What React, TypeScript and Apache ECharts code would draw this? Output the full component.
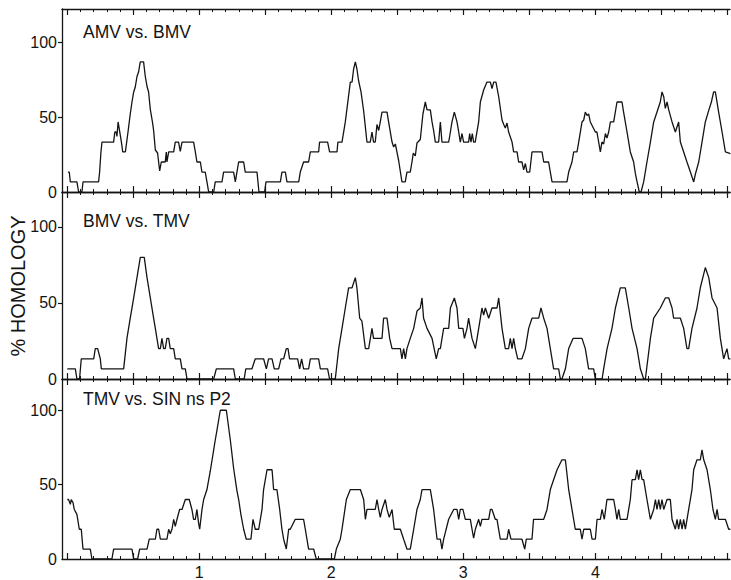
import { useEffect, useRef } from "react";
import * as echarts from "echarts";

const panelTitles = ["AMV vs. BMV", "BMV vs. TMV", "TMV vs. SIN ns P2"];
const yAxisName = "% HOMOLOGY";
const xLabelValues = [1, 2, 3, 4];
const xMajorTicks = [0, 0.5, 1, 1.5, 2, 2.5, 3, 3.5, 4, 4.5, 5];
const xMinorTicks = [
  0.1, 0.2, 0.3, 0.4, 0.6, 0.7, 0.8, 0.9, 1.1, 1.2, 1.3, 1.4, 1.6, 1.7, 1.8, 1.9,
  2.1, 2.2, 2.3, 2.4, 2.6, 2.7, 2.8, 2.9, 3.1, 3.2, 3.3, 3.4, 3.6, 3.7, 3.8, 3.9,
  4.1, 4.2, 4.3, 4.4, 4.6, 4.7, 4.8, 4.9,
];
const yLabelValues = [0, 50, 100];
const yTickValues = [50, 100];

const amvBmv: [number, number][] = [
  [0.005,13.3],[0.015,13.3],[0.023,6.7],[0.073,6.7],[0.086,0],[0.111,0],[0.119,6.7],[0.237,6.7],[0.245,13.3],[0.255,26.7],[0.263,33.3],[0.351,33.3],[0.36,40],[0.37,40],[0.376,37],[0.385,46.7],[0.39,46.7],[0.41,33.3],[0.42,26.7],[0.44,26.7],[0.46,40],[0.477,52],[0.49,60],[0.503,66.7],[0.515,70],[0.528,77],[0.54,80],[0.553,86.7],[0.578,86.7],[0.591,77],[0.605,70],[0.616,66.7],[0.629,55],[0.645,46.7],[0.654,41],[0.667,28],[0.684,26],[0.7,14],[0.712,20],[0.742,20],[0.75,26.7],[0.755,20],[0.768,26.7],[0.806,26.7],[0.818,33.3],[0.843,33.3],[0.856,27],[0.869,33.3],[0.957,33.3],[0.97,26.7],[0.982,20],[1.008,20],[1.02,13.3],[1.045,13.3],[1.058,6.7],[1.071,0],[1.109,0],[1.121,6.7],[1.172,6.7],[1.184,13.3],[1.26,13.3],[1.273,6.7],[1.285,13.3],[1.298,20],[1.336,20],[1.348,13.3],[1.437,13.3],[1.452,0],[1.495,0],[1.505,6.7],[1.614,6.7],[1.626,13.3],[1.652,13.3],[1.664,6.7],[1.753,6.7],[1.765,13.3],[1.79,20],[1.828,20],[1.841,26.7],[1.904,26.7],[1.911,33.3],[1.972,33.3],[1.987,26.7],[2.043,26.7],[2.05,33.3],[2.081,33.3],[2.106,46.7],[2.144,73.3],[2.157,73.3],[2.169,82],[2.182,86.7],[2.194,82],[2.207,74],[2.225,66.7],[2.245,54],[2.27,33.3],[2.295,33.3],[2.308,40],[2.32,33.3],[2.333,33.3],[2.346,45],[2.359,41],[2.371,46.7],[2.384,53.3],[2.422,53.3],[2.434,46.7],[2.46,33.3],[2.472,30],[2.485,32],[2.497,26.7],[2.51,21],[2.535,6.7],[2.56,6.7],[2.573,13.3],[2.598,13.3],[2.611,20],[2.621,26],[2.636,24],[2.649,32.7],[2.674,35],[2.694,52],[2.712,60],[2.725,54.7],[2.75,54.7],[2.763,46.7],[2.775,41],[2.788,33.3],[2.813,33.3],[2.826,46.7],[2.838,33.3],[2.889,33.3],[2.902,40],[2.914,46.7],[2.932,53.3],[2.952,46.7],[2.965,40],[2.977,33.3],[2.99,39],[3.002,33.3],[3.04,33.3],[3.048,39],[3.058,33.3],[3.068,39],[3.078,33.3],[3.09,33.3],[3.116,46.7],[3.129,60],[3.154,68],[3.179,73.3],[3.205,73.3],[3.217,69],[3.23,73.3],[3.247,73.3],[3.268,63.5],[3.293,48],[3.306,45],[3.318,42.7],[3.331,46],[3.343,40],[3.369,33.3],[3.381,26.7],[3.407,26.7],[3.419,20],[3.444,20],[3.457,14.7],[3.47,19],[3.482,13.3],[3.503,13.3],[3.52,26.7],[3.596,26.7],[3.609,20],[3.646,20],[3.659,13.3],[3.672,6.7],[3.785,6.7],[3.798,13.3],[3.823,20],[3.836,26.7],[3.861,26.7],[3.874,33.3],[3.899,46.7],[3.912,48],[3.924,53.3],[3.937,51],[3.949,52],[3.962,46.7],[4.0,40],[4.012,40],[4.038,26.7],[4.05,33.3],[4.063,32],[4.076,39],[4.088,36],[4.101,40],[4.114,46.7],[4.139,46.7],[4.164,60],[4.202,60],[4.214,53.3],[4.24,40],[4.265,26.7],[4.29,20],[4.303,12.4],[4.316,6.7],[4.333,0],[4.346,0],[4.366,6.7],[4.391,20],[4.417,33.3],[4.442,46.7],[4.467,53.3],[4.492,60],[4.505,66.7],[4.518,63.5],[4.53,55.8],[4.543,60],[4.556,54.7],[4.581,46.7],[4.606,40],[4.631,46.7],[4.644,33.3],[4.669,26.7],[4.694,20],[4.72,13.3],[4.745,6.7],[4.758,12],[4.783,20],[4.808,33.3],[4.833,46.7],[4.859,54.4],[4.879,60],[4.896,66.7],[4.909,66.7],[4.934,53.3],[4.96,40],[4.985,26.7],[5.023,25.6],
];

const bmvTmv: [number, number][] = [
  [0.0,6.7],[0.061,6.7],[0.073,0],[0.093,0],[0.106,13.3],[0.2,13.3],[0.212,20],[0.23,20],[0.25,13.3],[0.258,6.7],[0.427,6.7],[0.452,26.7],[0.477,40],[0.503,53.3],[0.528,66.7],[0.553,80],[0.583,80],[0.604,66.7],[0.629,53.3],[0.654,40],[0.667,33.3],[0.679,26.7],[0.692,20],[0.705,20],[0.717,26.7],[0.73,20],[0.742,20],[0.755,26.7],[0.768,26.7],[0.78,20],[0.806,20],[0.818,13.3],[0.856,13.3],[0.869,6.7],[0.894,6.7],[0.907,0],[1.109,0],[1.129,6.7],[1.26,6.7],[1.273,0],[1.34,0],[1.352,6.7],[1.399,6.7],[1.424,13.3],[1.487,13.3],[1.508,6.7],[1.525,13.3],[1.551,13.3],[1.568,6.7],[1.601,6.7],[1.619,13.3],[1.639,13.3],[1.659,20],[1.672,20],[1.684,13.3],[1.745,13.3],[1.76,6.7],[1.775,13.3],[1.79,6.7],[1.828,6.7],[1.841,13.3],[1.904,13.3],[1.917,6.7],[1.972,6.7],[1.987,0],[2.03,0],[2.056,20],[2.081,33.3],[2.106,46.7],[2.131,60],[2.157,60],[2.182,66.7],[2.194,60],[2.215,40],[2.232,38],[2.258,20],[2.283,20],[2.308,33.3],[2.32,26.7],[2.384,26.7],[2.396,40],[2.422,40],[2.442,26.7],[2.46,20],[2.523,20],[2.535,13.3],[2.548,20],[2.561,13.3],[2.573,20],[2.598,26.7],[2.624,33.3],[2.649,44.7],[2.674,46.7],[2.687,53.3],[2.699,40],[2.725,33.3],[2.763,26.7],[2.795,13.3],[2.813,20],[2.826,20],[2.851,33.3],[2.889,33.3],[2.902,46.7],[2.932,53.3],[2.952,46.7],[2.965,33.3],[2.997,33.3],[3.008,26.7],[3.028,33.3],[3.04,40],[3.053,33.3],[3.066,26.7],[3.091,20],[3.104,26.7],[3.129,40],[3.141,46.7],[3.154,42],[3.167,46.7],[3.192,40],[3.217,46.7],[3.255,46.7],[3.268,53.3],[3.293,33.3],[3.318,20],[3.343,20],[3.356,26.7],[3.369,20],[3.381,26.7],[3.394,20],[3.412,13.3],[3.444,13.3],[3.47,20],[3.495,33.3],[3.52,40],[3.571,40],[3.588,46.7],[3.609,40],[3.634,33.3],[3.659,20],[3.684,6.7],[3.722,6.7],[3.735,0],[3.747,0],[3.773,6.7],[3.798,20],[3.831,26.7],[3.899,26.7],[3.924,20],[3.949,6.7],[3.987,6.7],[4.0,0],[4.051,0],[4.063,6.7],[4.089,20],[4.126,33.3],[4.152,46.7],[4.189,60],[4.227,60],[4.253,46.7],[4.278,33.3],[4.316,20],[4.341,6.7],[4.366,0],[4.379,0],[4.417,26.7],[4.442,40],[4.492,46.7],[4.53,53.3],[4.556,53.3],[4.581,46.7],[4.593,40],[4.644,40],[4.669,33.3],[4.694,20],[4.707,20],[4.732,33.3],[4.77,46.7],[4.795,60],[4.833,73.3],[4.859,66.7],[4.884,53.3],[4.922,46.7],[4.947,26.7],[4.972,13.3],[4.997,20],[5.01,13.3],[5.023,13.3],
];

const tmvSin: [number, number][] = [
  [0.0,40],[0.01,40],[0.023,36.7],[0.03,40],[0.043,38],[0.053,33.3],[0.073,30],[0.091,20],[0.106,20],[0.119,6.7],[0.174,6.7],[0.187,0],[0.338,0],[0.351,6.7],[0.49,6.7],[0.503,0],[0.533,0],[0.548,6.7],[0.604,6.7],[0.621,13.3],[0.667,13.3],[0.679,20],[0.692,20],[0.705,13.3],[0.755,13.3],[0.768,20],[0.78,17],[0.793,20],[0.806,26.7],[0.818,22],[0.831,26.7],[0.851,33.3],[0.869,33.3],[0.894,40],[0.924,40],[0.944,33.3],[0.957,26.7],[0.97,26.7],[0.982,33.3],[0.995,24],[1.003,20],[1.02,33],[1.033,40],[1.058,46.7],[1.083,59],[1.109,73.3],[1.121,80],[1.134,86.7],[1.159,100],[1.205,100],[1.235,80],[1.26,61],[1.285,46],[1.3,39],[1.315,30],[1.336,20],[1.356,13.3],[1.391,13.3],[1.407,26.7],[1.424,20],[1.45,20],[1.475,33.3],[1.487,46.7],[1.513,60],[1.551,60],[1.563,46.7],[1.588,46.7],[1.609,33.3],[1.626,20],[1.639,13.3],[1.659,6.7],[1.677,20],[1.689,20],[1.727,26.7],[1.79,26.7],[1.803,20],[1.828,6.7],[1.866,6.7],[1.886,0],[2.023,0],[2.038,6.7],[2.068,13.3],[2.081,20],[2.114,40],[2.144,46.7],[2.22,46.7],[2.245,40],[2.258,26.7],[2.27,33.3],[2.333,33.3],[2.346,40],[2.359,33.3],[2.371,28],[2.384,33.3],[2.409,40],[2.422,33.3],[2.439,28],[2.46,33.3],[2.477,20],[2.523,20],[2.548,13.3],[2.573,6.7],[2.598,6.7],[2.624,20],[2.649,33.3],[2.674,40],[2.687,46.7],[2.75,46.7],[2.775,33.3],[2.801,13.3],[2.826,13.3],[2.838,6.7],[2.851,13.3],[2.889,26.7],[2.927,33.3],[2.952,33.3],[2.965,26.7],[2.977,33.3],[2.997,33.3],[3.015,26.7],[3.053,26.7],[3.066,20],[3.078,14],[3.091,20],[3.116,26.7],[3.129,22],[3.141,26.7],[3.192,26.7],[3.205,33.3],[3.217,33.3],[3.242,26.7],[3.255,26.7],[3.28,13.3],[3.331,13.3],[3.343,20],[3.361,13.3],[3.444,13.3],[3.465,6.7],[3.477,13.3],[3.52,13.3],[3.532,26.7],[3.609,26.7],[3.634,33.3],[3.659,46.7],[3.684,53.3],[3.71,60],[3.747,66.7],[3.773,66.7],[3.798,46.7],[3.823,33.3],[3.848,20],[3.886,20],[3.899,13.3],[3.912,20],[3.962,20],[3.975,13.3],[4.0,13.3],[4.013,26.7],[4.038,26.7],[4.051,33.3],[4.068,26.7],[4.088,40],[4.139,40],[4.152,33.3],[4.164,26.7],[4.177,33.3],[4.189,26.7],[4.24,26.7],[4.265,40],[4.278,53.3],[4.303,53.3],[4.316,60],[4.328,53.3],[4.341,60],[4.354,53.3],[4.366,53.3],[4.391,40],[4.417,26.7],[4.442,33.3],[4.455,40],[4.467,33.3],[4.48,40],[4.492,33.3],[4.505,40],[4.518,33.3],[4.543,40],[4.568,40],[4.581,26.7],[4.606,20],[4.619,26.7],[4.631,20],[4.644,26.7],[4.657,20],[4.669,26.7],[4.682,20],[4.707,33.3],[4.732,46.7],[4.745,60],[4.77,66.7],[4.795,66.7],[4.808,73.3],[4.821,66.7],[4.846,60],[4.871,46.7],[4.891,33.3],[4.909,26.7],[4.922,33.3],[4.934,26.7],[4.985,26.7],[5.01,20],[5.023,20],
];

const panelSeries = [amvBmv, bmvTmv, tmvSin];

const INK = "#141414";
const FONT = "Liberation Sans, Arial, sans-serif";
const gridBoxes = [
  { top: 9, height: 183, yMax: 122, titleY: 32 },
  { top: 192, height: 187, yMax: 123, titleY: 221 },
  { top: 379, height: 184, yMax: 121, titleY: 399 },
];

export default function App() {
  const ref = useRef<HTMLDivElement>(null);
  useEffect(() => {
    document.body.style.margin = "0";
    if (!ref.current) return;
    const chart = echarts.init(ref.current, undefined, { renderer: "svg" });

    const grid: any[] = [];
    const xAxis: any[] = [];
    const yAxis: any[] = [];
    const series: any[] = [];

    gridBoxes.forEach((g, i) => {
      grid.push({ left: 62, width: 668, top: g.top, height: g.height, containLabel: false });
      const base = {
        type: "value",
        gridIndex: i,
        min: -0.04,
        max: 5.02,
        splitLine: { show: false },
        axisLabel: { show: false },
        axisLine: { show: false },
        axisTick: { show: false },
      };
      const lineStyle = { color: INK, width: 1.3 };
      ["bottom", "top"].forEach((pos) => {
        xAxis.push({
          ...base,
          position: pos,
          axisLine: { show: true, onZero: false, lineStyle },
          axisTick: {
            show: true,
            inside: true,
            length: 6,
            customValues: xMajorTicks,
            lineStyle: { color: INK, width: 1.2 },
          },
          axisLabel:
            pos === "bottom" && i === 2
              ? { show: true, customValues: xLabelValues, margin: 5, fontSize: 16, color: INK, fontFamily: FONT }
              : { show: false },
        });
        xAxis.push({
          ...base,
          position: pos,
          axisTick: {
            show: true,
            inside: true,
            length: 3,
            customValues: xMinorTicks,
            lineStyle: { color: INK, width: 1 },
          },
        });
      });
      yAxis.push({
        type: "value",
        gridIndex: i,
        min: 0,
        max: g.yMax,
        position: "left",
        splitLine: { show: false },
        axisLine: { show: true, onZero: false, lineStyle },
        axisTick: { show: true, inside: false, length: 4, customValues: yTickValues, lineStyle: { color: INK, width: 1.2 } },
        axisLabel: { show: true, customValues: yLabelValues, margin: 5, fontSize: 16, color: INK, fontFamily: FONT },
      });
      series.push({
        type: "line",
        xAxisIndex: i * 4,
        yAxisIndex: i,
        data: panelSeries[i],
        symbol: "none",
        showSymbol: false,
        silent: true,
        clip: true,
        lineStyle: { color: INK, width: 1.3 },
      });
    });

    const graphic: any[] = gridBoxes.map((g, i) => ({
      type: "text",
      x: 83,
      y: g.titleY,
      style: {
        text: panelTitles[i],
        fill: INK,
        font: `17.5px ${FONT}`,
        align: "left",
        verticalAlign: "middle",
      },
    }));
    graphic.push({
      type: "text",
      x: 18,
      y: 286,
      rotation: Math.PI / 2,
      style: {
        text: yAxisName,
        fill: INK,
        font: `20px ${FONT}`,
        align: "center",
        verticalAlign: "middle",
      },
    });

    chart.setOption({
      animation: false,
      backgroundColor: "#ffffff",
      grid,
      xAxis,
      yAxis,
      series,
      graphic,
    });
    return () => chart.dispose();
  }, []);
  return <div ref={ref} style={{ width: 731, height: 580 }} />;
}
